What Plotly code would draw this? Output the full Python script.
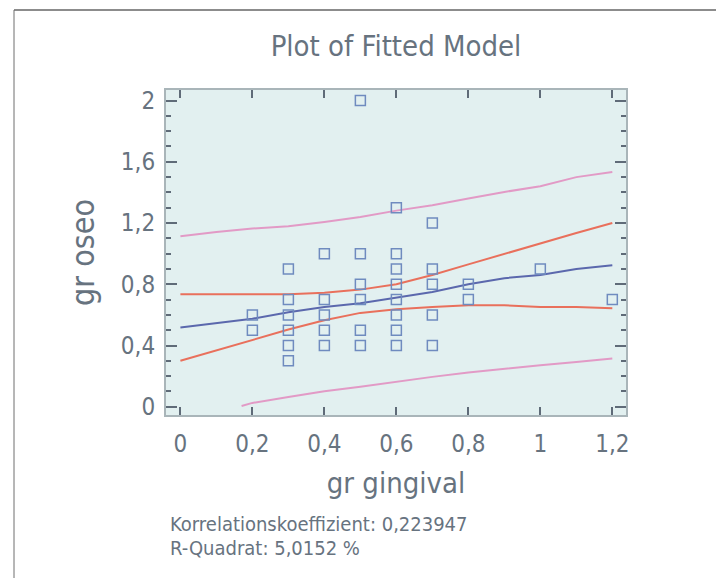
import plotly.graph_objects as go

# Observed data points
obs_x = [0.2, 0.2,
         0.3, 0.3, 0.3, 0.3, 0.3, 0.3,
         0.4, 0.4, 0.4, 0.4, 0.4,
         0.5, 0.5, 0.5, 0.5, 0.5, 0.5,
         0.6, 0.6, 0.6, 0.6, 0.6, 0.6, 0.6, 0.6,
         0.7, 0.7, 0.7, 0.7, 0.7,
         0.8, 0.8,
         1.0,
         1.2]
obs_y = [0.6, 0.5,
         0.9, 0.7, 0.6, 0.5, 0.4, 0.3,
         1.0, 0.7, 0.6, 0.5, 0.4,
         2.0, 1.0, 0.8, 0.7, 0.5, 0.4,
         1.3, 1.0, 0.9, 0.8, 0.7, 0.6, 0.5, 0.4,
         1.2, 0.9, 0.8, 0.6, 0.4,
         0.8, 0.7,
         0.9,
         0.7]

# Curves
curve_x = [0, 0.1, 0.2, 0.3, 0.4, 0.5, 0.6, 0.7, 0.8, 0.9, 1.0, 1.1, 1.2]
fit_y = [0.517, 0.547, 0.575, 0.617, 0.652, 0.676, 0.713, 0.75, 0.8, 0.84, 0.86, 0.9, 0.924]
conf_upper = [0.735, 0.735, 0.735, 0.735, 0.745, 0.765, 0.80, 0.86, 0.93, 1.0, 1.065, 1.135, 1.20]
conf_lower = [0.30, 0.369, 0.439, 0.504, 0.565, 0.613, 0.636, 0.652, 0.663, 0.663, 0.652, 0.652, 0.643]
pred_upper = [1.114, 1.142, 1.164, 1.179, 1.207, 1.24, 1.281, 1.316, 1.36, 1.403, 1.44, 1.50, 1.534]
pred_lower_x = [0.17, 0.2, 0.3, 0.4, 0.5, 0.6, 0.7, 0.8, 0.9, 1.0, 1.1, 1.2]
pred_lower = [0.005, 0.025, 0.064, 0.101, 0.13, 0.163, 0.195, 0.223, 0.249, 0.271, 0.293, 0.315]

x_ticks = [0, 0.2, 0.4, 0.6, 0.8, 1, 1.2]
x_ticklabels = ["0", "0,2", "0,4", "0,6", "0,8", "1", "1,2"]
y_ticks = [0, 0.4, 0.8, 1.2, 1.6, 2]
y_ticklabels = ["0", "0,4", "0,8", "1,2", "1,6", "2"]

title_text = "Plot of Fitted Model"
x_title = "gr gingival"
y_title = "gr oseo"
stats_lines = ["Korrelationskoeffizient: 0,223947", "R-Quadrat: 5,0152 %"]

FONT = "Liberation Sans Narrow, DejaVu Sans Condensed, Roboto, sans-serif"
TXT = "#67737f"
TICK = "#5f6b78"

# page body has an 8px offset; plot area in figure coords
L, T, W, H = 158, 82, 460, 325
def px(xp):
    return (xp - L) / W
def py(yp):
    return (T + H - yp) / H

fig = go.Figure()
fig.add_trace(go.Scatter(x=curve_x, y=pred_upper, mode="lines",
                         line=dict(color="#e29ac6", width=2), showlegend=False))
fig.add_trace(go.Scatter(x=pred_lower_x, y=pred_lower, mode="lines",
                         line=dict(color="#e29ac6", width=2), showlegend=False))
fig.add_trace(go.Scatter(x=curve_x, y=conf_upper, mode="lines",
                         line=dict(color="#e9705c", width=2), showlegend=False))
fig.add_trace(go.Scatter(x=curve_x, y=conf_lower, mode="lines",
                         line=dict(color="#e9705c", width=2), showlegend=False))
fig.add_trace(go.Scatter(x=curve_x, y=fit_y, mode="lines",
                         line=dict(color="#5b68ad", width=2), showlegend=False))
fig.add_trace(go.Scatter(x=obs_x, y=obs_y, mode="markers",
                         marker=dict(symbol="square-open", size=10,
                                     color="#6f8bbf", line=dict(width=1.5, color="#6f8bbf")),
                         showlegend=False))

fig.update_layout(
    width=724, height=578,
    margin=dict(l=L, r=724 - L - W, t=T, b=578 - T - H, autoexpand=False),
    paper_bgcolor="white",
    plot_bgcolor="#e2f0f0",
    font=dict(family=FONT, color=TXT),
    title=dict(text=title_text, x=388/724, xanchor="center", y=1-38/578, yanchor="middle",
               font=dict(size=29, color=TXT, family=FONT)),
    xaxis=dict(range=[-0.04, 1.238], tickvals=x_ticks, ticktext=x_ticklabels,
               ticks="inside", ticklen=8, tickwidth=2, tickcolor=TICK,
               showline=True, linecolor="#a9b5b9", linewidth=2, mirror="ticks",
               showgrid=False, zeroline=False, ticklabelstandoff=6,
               tickfont=dict(size=24, color=TXT, family=FONT),
               title=dict(text=x_title, font=dict(size=29, color=TXT, family=FONT), standoff=16)),
    yaxis=dict(range=[-0.054, 2.069], tickvals=y_ticks, ticktext=y_ticklabels,
               ticks="inside", ticklen=11, tickwidth=2, tickcolor=TICK,
               minor=dict(dtick=0.1, tick0=0, ticks="inside", ticklen=5, tickwidth=2, tickcolor=TICK),
               showline=True, linecolor="#a9b5b9", linewidth=2, mirror="ticks",
               showgrid=False, zeroline=False, ticklabelstandoff=4,
               tickfont=dict(size=24, color=TXT, family=FONT),
               title=dict(text=y_title, font=dict(size=32, color=TXT, family=FONT), standoff=17)),
    shapes=[
        dict(type="line", xref="paper", yref="paper", x0=px(6), x1=px(715),
             y0=py(2), y1=py(2), line=dict(color="#8c8c8c", width=2)),
        dict(type="line", xref="paper", yref="paper", x0=px(6), x1=px(6),
             y0=py(2), y1=py(580), line=dict(color="#6e6e6e", width=1)),
        dict(type="line", xref="paper", yref="paper", x0=px(715), x1=px(715),
             y0=py(2), y1=py(580), line=dict(color="#6e6e6e", width=1.5)),
    ],
    annotations=[
        dict(text=stats_lines[0], xref="paper", yref="paper", x=px(160), y=py(516),
             xanchor="left", yanchor="middle", showarrow=False,
             font=dict(size=20, color=TXT, family=FONT)),
        dict(text=stats_lines[1], xref="paper", yref="paper", x=px(160), y=py(540),
             xanchor="left", yanchor="middle", showarrow=False,
             font=dict(size=20, color=TXT, family=FONT)),
    ],
)

fig.write_html("out.html")
